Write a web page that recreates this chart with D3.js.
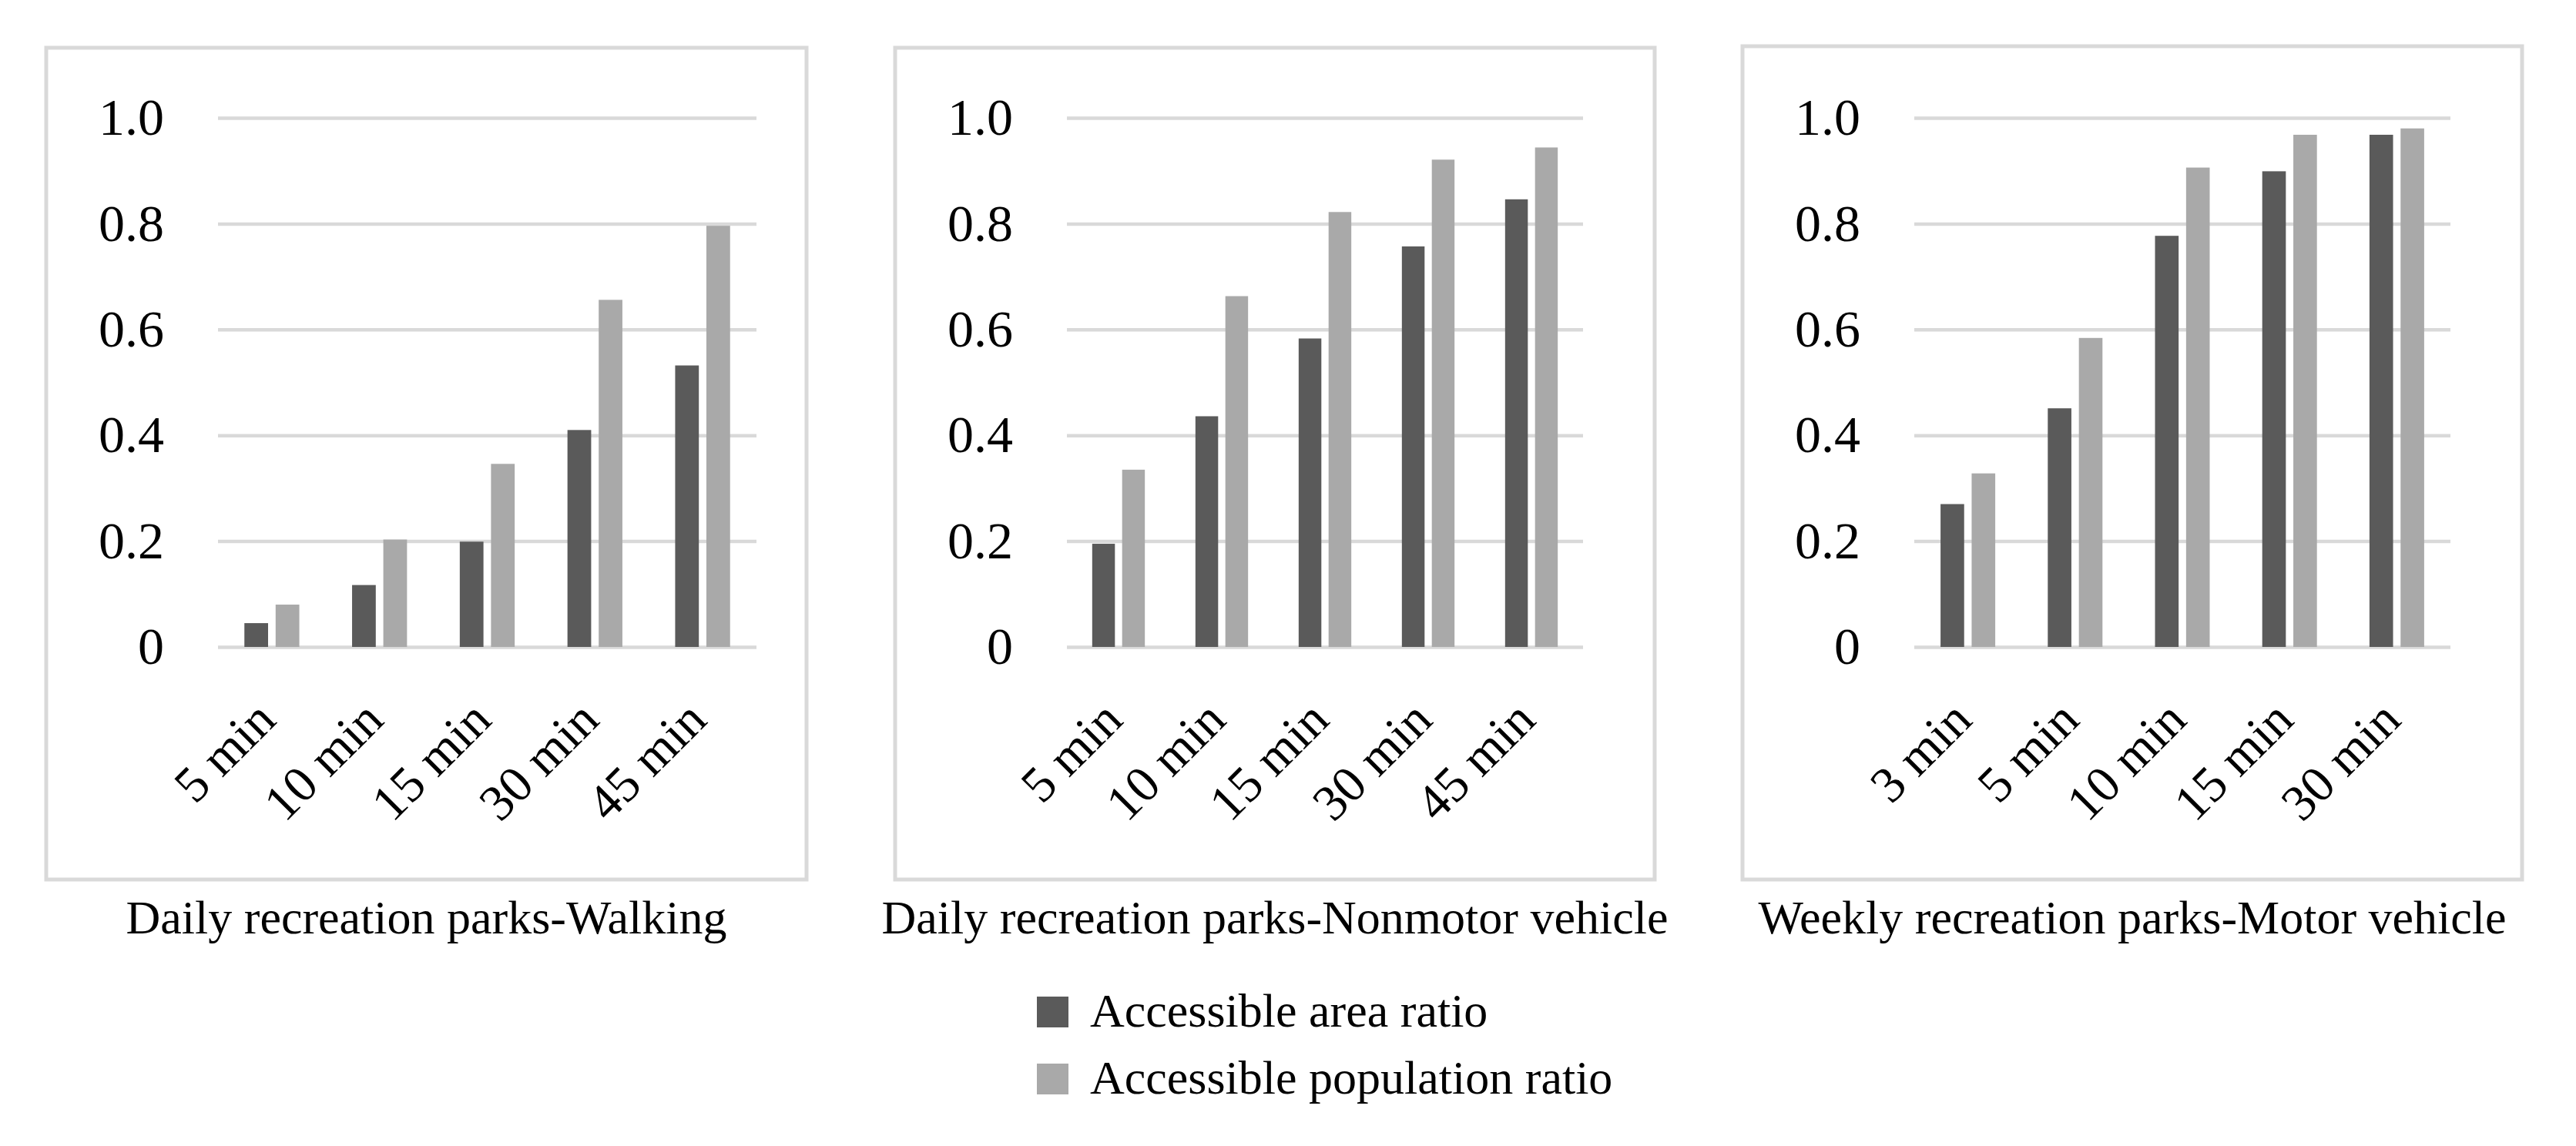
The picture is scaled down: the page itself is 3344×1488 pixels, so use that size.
<!DOCTYPE html>
<html>
<head>
<meta charset="utf-8">
<script src="https://cdn.jsdelivr.net/npm/d3@7"></script>
<style>
  html, body { margin: 0; padding: 0; background: #fff; }
  svg { display: block; font-family: "Liberation Serif", "Times New Roman", serif; }
</style>
</head>
<body>
<script>
// chart data
const panelTitles = [
    "Daily recreation parks-Walking",
    "Daily recreation parks-Nonmotor vehicle",
    "Weekly recreation parks-Motor vehicle"
];
const walkingTimes = ["5 min", "10 min", "15 min", "30 min", "45 min"];
const walkingArea = [0.045, 0.117, 0.199, 0.41, 0.532];
const walkingPop = [0.08, 0.203, 0.346, 0.656, 0.796];

const nonmotorTimes = ["5 min", "10 min", "15 min", "30 min", "45 min"];
const nonmotorArea = [0.195, 0.436, 0.583, 0.757, 0.846];
const nonmotorPop = [0.335, 0.663, 0.822, 0.921, 0.944];

const motorTimes = ["3 min", "5 min", "10 min", "15 min", "30 min"];
const motorArea = [0.27, 0.451, 0.777, 0.899, 0.968];
const motorPop = [0.328, 0.584, 0.906, 0.968, 0.98];

const yTicks = [0, 0.2, 0.4, 0.6, 0.8, 1.0];
const yTickLabels = ["0", "0.2", "0.4", "0.6", "0.8", "1.0"];
const seriesNames = ["Accessible area ratio", "Accessible population ratio"];

window.onload = function() {
    let width = 3344;
    let height = 1488;
    let colors = ["#5a5a5a", "#a9a9a9"];
    let gridColor = "#d9d9d9";

    let svg = d3.select("body")
        .append("svg")
        .attr("width", width)
        .attr("height", height);

    // one entry per small chart: data + where it sits
    let panels = [
        { title: panelTitles[0], cats: walkingTimes, area: walkingArea, pop: walkingPop,
          box: [60, 62, 1047, 1142], plot: [283, 982] },
        { title: panelTitles[1], cats: nonmotorTimes, area: nonmotorArea, pop: nonmotorPop,
          box: [1162, 62, 2148, 1142], plot: [1385, 2055] },
        { title: panelTitles[2], cats: motorTimes, area: motorArea, pop: motorPop,
          box: [2262, 60, 3274, 1142], plot: [2485, 3181] }
    ];

    let y = d3.scaleLinear()
        .domain([0, 1])
        .range([840, 153]);

    panels.forEach(function(p) {
        let g = svg.append("g");

        // outer frame
        g.append("rect")
            .attr("x", p.box[0])
            .attr("y", p.box[1])
            .attr("width", p.box[2] - p.box[0])
            .attr("height", p.box[3] - p.box[1])
            .style("fill", "none")
            .style("stroke", gridColor)
            .style("stroke-width", 5);

        let x = d3.scaleBand()
            .domain(p.cats)
            .range(p.plot)
            .padding(0);

        // gridlines + y labels
        let yAxis = d3.axisLeft(y)
            .tickValues(yTicks)
            .tickFormat(function(d, i) { return yTickLabels[i]; })
            .tickSize(-(p.plot[1] - p.plot[0]))
            .tickPadding(70);

        let ax = g.append("g")
            .attr("transform", "translate(" + p.plot[0] + ",0)")
            .call(yAxis);
        ax.select(".domain").remove();
        ax.selectAll(".tick line")
            .style("stroke", gridColor)
            .style("stroke-width", 4.5);
        ax.selectAll(".tick text")
            .style("font-family", "Liberation Serif")
            .style("font-size", "68px")
            .style("fill", "#000");

        // bars
        let bw = x.bandwidth() * 0.22;
        let gap = x.bandwidth() * 0.07;
        let series = [p.area, p.pop];
        series.forEach(function(vals, si) {
            g.selectAll(null)
                .data(vals)
                .enter()
                .append("rect")
                .attr("x", function(d, i) {
                    let c = x(p.cats[i]) + x.bandwidth() / 2;
                    return si === 0 ? c - gap / 2 - bw : c + gap / 2;
                })
                .attr("y", function(d) { return y(d); })
                .attr("width", bw)
                .attr("height", function(d) { return y(0) - y(d); })
                .style("fill", colors[si]);
        });

        // rotated category labels
        g.selectAll(null)
            .data(p.cats)
            .enter()
            .append("text")
            .attr("transform", function(d) {
                let cx = x(d) + x.bandwidth() / 2 + 8;
                return "translate(" + cx + "," + (y(0) + 98) + ") rotate(-45)";
            })
            .attr("text-anchor", "end")
            .style("font-size", "66px")
            .style("fill", "#000")
            .text(function(d) { return d; });

        // panel title under the frame
        g.append("text")
            .attr("x", (p.box[0] + p.box[2]) / 2)
            .attr("y", 1212)
            .attr("text-anchor", "middle")
            .style("font-size", "62px")
            .style("fill", "#000")
            .text(p.title);
    });

    // legend
    let legend = svg.append("g")
        .attr("transform", "translate(1346,1294)");
    seriesNames.forEach(function(name, i) {
        legend.append("rect")
            .attr("x", 0)
            .attr("y", i * 87)
            .attr("width", 41)
            .attr("height", 40)
            .style("fill", colors[i]);
        legend.append("text")
            .attr("x", 69)
            .attr("y", i * 87 + 39)
            .style("font-size", "62px")
            .style("fill", "#000")
            .text(name);
    });
};
</script>
</body>
</html>
